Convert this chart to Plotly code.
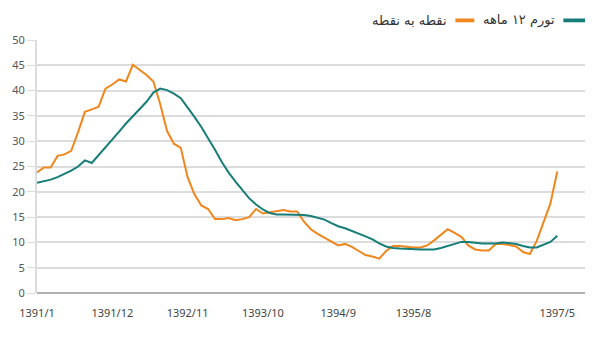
import plotly.graph_objects as go

# month index 0 = 1391/1 ... 76 = 1397/5
months = list(range(77))

point_to_point = [
    23.8, 24.8, 24.8, 27.1, 27.4, 28.1, 31.8, 35.8, 36.3, 36.8,
    40.4, 41.2, 42.2, 41.8, 45.1, 44.1, 43.1, 41.8, 37.3, 32.0,
    29.5, 28.7, 22.9, 19.5, 17.3, 16.6, 14.6, 14.6, 14.8, 14.4,
    14.6, 15.0, 16.6, 15.7, 15.9, 16.1, 16.4, 16.1, 16.1, 14.1,
    12.6, 11.7, 10.9, 10.1, 9.4, 9.7, 9.1, 8.3, 7.5, 7.2,
    6.8, 8.3, 9.3, 9.3, 9.1, 9.0, 9.0, 9.4, 10.4, 11.5,
    12.6, 11.9, 11.1, 9.4, 8.6, 8.4, 8.4, 9.7, 9.7, 9.5,
    9.2, 8.1, 7.7, 10.3, 13.8, 17.7, 24.0,
]

inflation_12m = [
    21.8, 22.1, 22.4, 22.9, 23.5, 24.2, 25.0, 26.2, 25.7, 27.2,
    28.7, 30.3, 31.9, 33.5, 35.0, 36.5, 37.8, 39.6, 40.4, 40.1,
    39.4, 38.5, 36.7, 34.8, 32.8, 30.6, 28.3, 25.9, 23.8, 22.0,
    20.3, 18.7, 17.5, 16.5, 15.8, 15.5, 15.5, 15.5, 15.5, 15.4,
    15.2, 14.9, 14.5, 13.8, 13.2, 12.8, 12.3, 11.8, 11.2, 10.6,
    9.8, 9.2, 8.9, 8.8, 8.7, 8.6, 8.6, 8.6, 8.6, 8.9,
    9.3, 9.7, 10.1, 10.1, 9.9, 9.8, 9.8, 9.8, 10.0, 9.9,
    9.7, 9.3, 9.0, 9.0, 9.5, 10.1, 11.3,
]

tick_positions = [0, 11, 22, 33, 44, 55, 76]
tick_labels = ["1391/1", "1391/12", "1392/11", "1393/10", "1394/9", "1395/8", "1397/5"]
y_ticks = [0, 5, 10, 15, 20, 25, 30, 35, 40, 45, 50]

series_names = ["تورم ۱۲ ماهه", "نقطه به نقطه"]
teal = "#167d79"
orange = "#f0861c"

fig = go.Figure()
fig.add_trace(go.Scatter(x=months, y=point_to_point, mode="lines",
                         line=dict(color=orange, width=2), name=series_names[1],
                         showlegend=False))
fig.add_trace(go.Scatter(x=months, y=inflation_12m, mode="lines",
                         line=dict(color=teal, width=2), name=series_names[0],
                         showlegend=False))

grey = "#dcdcdc"
fig.update_layout(
    width=598, height=340,
    margin=dict(l=31, r=13, t=40, b=47),
    paper_bgcolor="white", plot_bgcolor="white",
    font=dict(family="Noto Sans, DejaVu Sans", size=11, color="#555555"),
    xaxis=dict(
        range=[0, 80.05], tickmode="array", tickvals=tick_positions, ticktext=tick_labels,
        showgrid=False, zeroline=False, showline=False,
        ticks="outside", ticklen=10, tickcolor="rgba(0,0,0,0)",
        tickfont=dict(size=11, color="#444444"),
    ),
    yaxis=dict(
        range=[0, 50], tickvals=y_ticks, showgrid=True, gridcolor=grey, gridwidth=1.5,
        zeroline=True, zerolinecolor="#b0b0b0", zerolinewidth=1.5,
        showline=True, linecolor=grey, linewidth=2,
        ticks="outside", ticklen=8, tickcolor=grey, tickwidth=1,
        tickfont=dict(size=11, color="#555555"),
    ),
)

# RTL-style legend: swatch to the right of its text
legend_items = [
    (series_names[0], teal, 0.9605, 1.0),
    (series_names[1], orange, 0.7635, 0.798),
]
for name, color, x0, x1 in legend_items:
    fig.add_shape(type="rect", xref="paper", yref="paper", x0=x0, x1=x1,
                  y0=1.07, y1=1.085, fillcolor=color, line=dict(width=0))
    fig.add_annotation(xref="paper", yref="paper", x=x0 - 0.011, y=1.078,
                       text=name, showarrow=False, xanchor="right", yanchor="middle",
                       font=dict(family="DejaVu Sans", size=13, color="#333333"))

fig.write_html("out.html")
